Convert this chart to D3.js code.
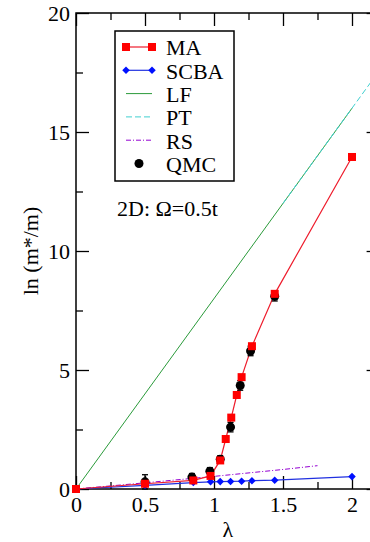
<!DOCTYPE html>
<html>
<head>
<meta charset="utf-8">
<script src="https://cdn.jsdelivr.net/npm/d3@7"></script>
<style>
  body { margin: 0; background: #fff; }
  svg text { font-family: "Times New Roman", Tinos, "Liberation Serif", "Noto Serif", "DejaVu Serif", FreeSerif, serif; fill: #000; }
</style>
</head>
<body>
<div id="chart"></div>
<script>
// data
const maLam = [0, 0.5, 0.85, 0.975, 1.045, 1.085, 1.125, 1.165, 1.2, 1.275, 1.44, 2.0];
const maVal = [0, 0.22, 0.36, 0.55, 1.2, 2.1, 3.0, 3.95, 4.7, 6.0, 8.2, 13.95];

const scbaLam = [0, 0.5, 0.85, 0.975, 1.045, 1.12, 1.2, 1.275, 1.44, 2.0];
const scbaVal = [0, 0.15, 0.27, 0.3, 0.31, 0.32, 0.33, 0.35, 0.37, 0.52];

const lfLam = [0, 2.0];
const lfVal = [0, 16.0];

const ptLam = [1.5, 1.75, 2.0, 2.15];
const ptVal = [12.0, 14.0, 16.0, 17.2];

const rsLam = [0, 0.5, 1.0, 1.5, 1.75];
const rsVal = [0, 0.26, 0.53, 0.82, 0.98];

const qmcLam = [0.5, 0.84, 0.97, 1.045, 1.12, 1.19, 1.265, 1.44];
const qmcVal = [0.3, 0.5, 0.75, 1.25, 2.6, 4.35, 5.8, 8.1];
const qmcErr = [0.3, 0.15, 0.15, 0.15, 0.2, 0.2, 0.2, 0.2];

const xMajor = [0, 0.5, 1, 1.5, 2];
const xMinor = [0.25, 0.75, 1.25, 1.75];
const yMajor = [0, 5, 10, 15, 20];
const yMinor = [2.5, 7.5, 12.5, 17.5];

const legendNames = ["MA", "SCBA", "LF", "PT", "RS", "QMC"];

const W = 370, H = 542;
const pLeft = 76, pRight = 379.6, pTop = 13, pBottom = 489;

const svg = d3.select("#chart").append("svg")
    .attr("width", W)
    .attr("height", H);

const x = d3.scaleLinear().domain([0, 2.2]).range([pLeft, pRight]);
const y = d3.scaleLinear().domain([0, 20]).range([pBottom, pTop]);

const pairs = (a, b) => a.map((v, i) => [v, b[i]]);
const line = d3.line().x(d => x(d[0])).y(d => y(d[1]));

// axes: ticks point inward
const fs = "22px";
const axB = svg.append("g").attr("transform", `translate(0,${pBottom})`)
    .call(d3.axisBottom(x).tickValues(xMajor).tickSizeInner(-13).tickSizeOuter(0).tickPadding(7).tickFormat(d3.format("")));
const axL = svg.append("g").attr("transform", `translate(${pLeft},0)`)
    .call(d3.axisLeft(y).tickValues(yMajor).tickSizeInner(-13).tickSizeOuter(0).tickPadding(6));
[axB, axL].forEach(g => {
    g.attr("font-family", null);
    g.select(".domain").remove();
    g.selectAll("text").style("font-size", fs);
    g.selectAll("line").attr("stroke", "#000").attr("stroke-width", 1.3);
});
// minor and mirrored ticks
const tickOnly = (axis, tr) => {
    const g = svg.append("g").attr("transform", tr).call(axis.tickFormat(""));
    g.select(".domain").remove();
    g.selectAll("line").attr("stroke", "#000").attr("stroke-width", 1.3);
};
tickOnly(d3.axisBottom(x).tickValues(xMinor).tickSizeInner(-7).tickSizeOuter(0), `translate(0,${pBottom})`);
tickOnly(d3.axisLeft(y).tickValues(yMinor).tickSizeInner(-7).tickSizeOuter(0), `translate(${pLeft},0)`);
tickOnly(d3.axisTop(x).tickValues(xMajor).tickSizeInner(-13).tickSizeOuter(0), `translate(0,${pTop})`);
tickOnly(d3.axisTop(x).tickValues(xMinor).tickSizeInner(-7).tickSizeOuter(0), `translate(0,${pTop})`);
tickOnly(d3.axisRight(y).tickValues(yMajor).tickSizeInner(-13).tickSizeOuter(0), `translate(${pRight},0)`);
tickOnly(d3.axisRight(y).tickValues(yMinor).tickSizeInner(-7).tickSizeOuter(0), `translate(${pRight},0)`);

svg.append("rect")
    .attr("x", pLeft).attr("y", pTop)
    .attr("width", pRight - pLeft).attr("height", pBottom - pTop)
    .attr("fill", "none").attr("stroke", "#000").attr("stroke-width", 1.5);

// axis titles
svg.append("text")
    .attr("x", (pLeft + pRight) / 2).attr("y", 537)
    .attr("text-anchor", "middle").style("font-size", fs)
    .text("λ");
svg.append("text")
    .attr("transform", `translate(38,${(pTop + pBottom) / 2}) rotate(-90)`)
    .attr("text-anchor", "middle").style("font-size", fs)
    .text("ln (m*/m)");

// data lines
const plot = svg.append("g");
plot.append("path").datum(pairs(lfLam, lfVal)).attr("d", line)
    .attr("fill", "none").attr("stroke", "#2a9a3a").attr("stroke-width", 1);
plot.append("path").datum(pairs(ptLam, ptVal)).attr("d", line)
    .attr("fill", "none").attr("stroke", "#40d0d0").attr("stroke-width", 1)
    .attr("stroke-dasharray", "6,3");
plot.append("path").datum(pairs(rsLam, rsVal)).attr("d", line)
    .attr("fill", "none").attr("stroke", "#9400d3").attr("stroke-width", 1)
    .attr("stroke-dasharray", "5,2,1,2");
plot.append("path").datum(pairs(scbaLam, scbaVal)).attr("d", line)
    .attr("fill", "none").attr("stroke", "#2030e0").attr("stroke-width", 1.2);
plot.append("path").datum(pairs(maLam, maVal)).attr("d", line)
    .attr("fill", "none").attr("stroke", "#ee1c2c").attr("stroke-width", 1.2);

// QMC points with error bars
const qmc = pairs(qmcLam, qmcVal).map((d, i) => ({ l: d[0], v: d[1], e: qmcErr[i] }));
const qg = plot.append("g").selectAll("g").data(qmc).join("g");
qg.append("line")
    .attr("x1", d => x(d.l)).attr("x2", d => x(d.l))
    .attr("y1", d => y(d.v - d.e)).attr("y2", d => y(d.v + d.e))
    .attr("stroke", "#000").attr("stroke-width", 1.3);
qg.append("line")
    .attr("x1", d => x(d.l) - 3).attr("x2", d => x(d.l) + 3)
    .attr("y1", d => y(d.v + d.e)).attr("y2", d => y(d.v + d.e))
    .attr("stroke", "#000").attr("stroke-width", 1.3);
qg.append("line")
    .attr("x1", d => x(d.l) - 3).attr("x2", d => x(d.l) + 3)
    .attr("y1", d => y(d.v - d.e)).attr("y2", d => y(d.v - d.e))
    .attr("stroke", "#000").attr("stroke-width", 1.3);
qg.append("circle")
    .attr("cx", d => x(d.l)).attr("cy", d => y(d.v)).attr("r", 4.5)
    .attr("fill", "#000");

// SCBA diamonds
const diamond = d3.symbol().type(d3.symbolDiamond2).size(36);
plot.append("g").selectAll("path").data(pairs(scbaLam, scbaVal)).join("path")
    .attr("d", diamond)
    .attr("transform", d => `translate(${x(d[0])},${y(d[1])})`)
    .attr("fill", "#0010ff");

// MA squares
plot.append("g").selectAll("rect").data(pairs(maLam, maVal)).join("rect")
    .attr("x", d => x(d[0]) - 4).attr("y", d => y(d[1]) - 4)
    .attr("width", 8).attr("height", 8)
    .attr("fill", "#ff0000");

// legend
const lg = svg.append("g");
lg.append("rect").attr("x", 115).attr("y", 31).attr("width", 119).attr("height", 150)
    .attr("fill", "#fff").attr("stroke", "#000").attr("stroke-width", 1.5);
const ly = i => 47 + i * 23.3;
const lx0 = 126, lx1 = 152;
legendNames.forEach((name, i) => {
    lg.append("text").attr("x", 166).attr("y", ly(i) + 8.3)
        .style("font-size", fs).text(name);
});
lg.append("line").attr("x1", lx0).attr("x2", lx1).attr("y1", ly(0)).attr("y2", ly(0))
    .attr("stroke", "#ee1c2c").attr("stroke-width", 1.2);
[lx0, lx1].forEach(px => lg.append("rect").attr("x", px - 4).attr("y", ly(0) - 4)
    .attr("width", 8).attr("height", 8).attr("fill", "#ff0000"));
lg.append("line").attr("x1", lx0).attr("x2", lx1).attr("y1", ly(1)).attr("y2", ly(1))
    .attr("stroke", "#2030e0").attr("stroke-width", 1.2);
[lx0, lx1].forEach(px => lg.append("path").attr("d", diamond)
    .attr("transform", `translate(${px},${ly(1)})`).attr("fill", "#0010ff"));
lg.append("line").attr("x1", lx0).attr("x2", lx1).attr("y1", ly(2)).attr("y2", ly(2))
    .attr("stroke", "#2a9a3a").attr("stroke-width", 1);
lg.append("line").attr("x1", lx0).attr("x2", lx1).attr("y1", ly(3)).attr("y2", ly(3))
    .attr("stroke", "#40d0d0").attr("stroke-width", 1).attr("stroke-dasharray", "6,3");
lg.append("line").attr("x1", lx0).attr("x2", lx1).attr("y1", ly(4)).attr("y2", ly(4))
    .attr("stroke", "#9400d3").attr("stroke-width", 1).attr("stroke-dasharray", "5,2,1,2");
lg.append("circle").attr("cx", (lx0 + lx1) / 2).attr("cy", ly(5)).attr("r", 4.5).attr("fill", "#000");

// annotation
svg.append("text").attr("x", 117).attr("y", 216)
    .style("font-size", fs).text("2D: Ω=0.5t");
</script>
</body>
</html>
